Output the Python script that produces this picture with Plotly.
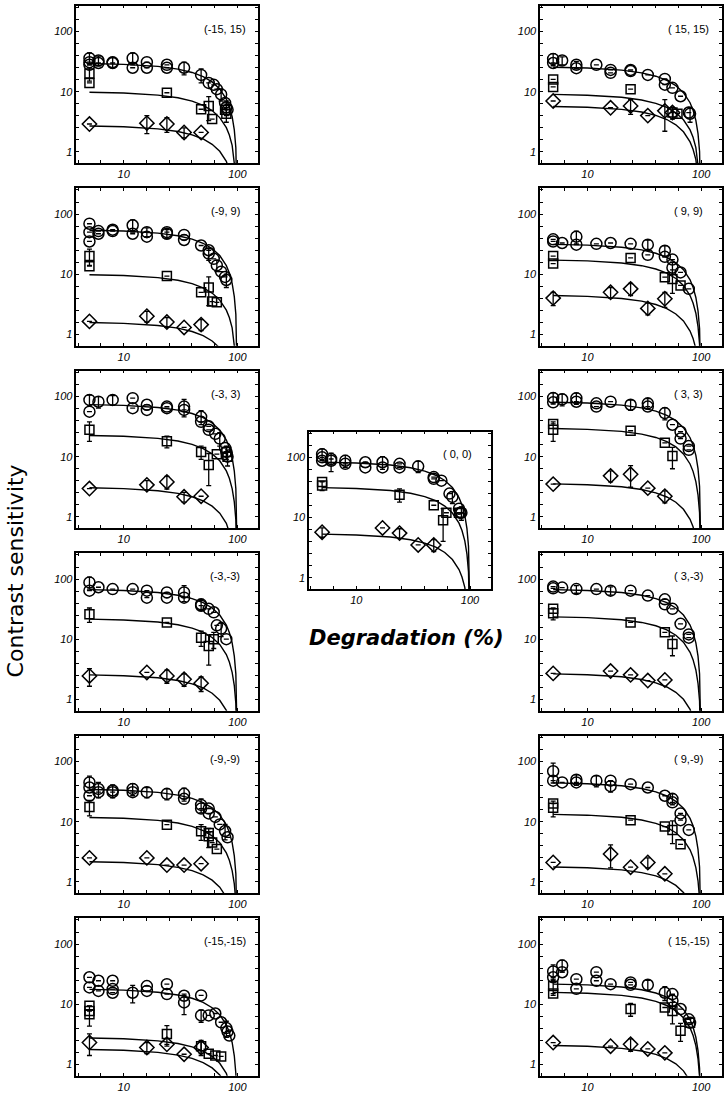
import plotly.graph_objects as go

W, H = 724, 1093

# ---------------- data ----------------
# shared fit-curve fall-off (relative level vs degradation %)
FIT_X = [5, 10, 20, 30, 40, 50, 60, 70, 80, 85, 90, 94, 97, 99, 99.8]
FIT_SHAPE = [0.980, 0.950, 0.877, 0.791, 0.696, 0.594, 0.485, 0.371, 0.252, 0.190, 0.128, 0.077, 0.039, 0.013, 0.0026]

# each point: (degradation %, contrast sensitivity, error half-width; 0 = no bar)
m15p15_circ = [(5,36,8),(5,31,0),(5,28,0),(6,33,6),(6,30,0),(8,31,6),(8,30,0),(12,36,8),(12,25,0),(16,31,0),(16,25,0),(24,28,0),(24,25,0),(34,25,6),(48,19,5),(56,14,0),(62,13,0),(66,11,0),(72,9,2),(78,6.5,0),(80,5.5,1.5),(82,5,0)]
m15p15_sq = [(5,20,5),(5,14,0),(24,9.6,0),(48,5.1,0),(56,5.8,2.5),(60,3.5,0),(78,5,0),(80,4.3,1.2)]
m15p15_dia = [(5,2.9,0),(16,3.0,1),(24,2.9,0.8),(34,2.1,0.4),(48,2.1,0)]
m15p15_fit = [30, 10, 2.75]

m9p9_circ = [(5,69,0),(5,50,0),(5,35,0),(6,52,0),(6,47,0),(8,55,0),(8,52,0),(12,65,15),(12,47,0),(16,50,9),(16,42,0),(24,50,0),(24,47,8),(34,45,0),(34,37,0),(48,30,0),(56,25,0),(56,22,5),(62,18,0),(66,14,3),(72,11,0),(78,9,0),(80,8,2)]
m9p9_sq = [(5,20,6),(5,13.6,0),(24,9.3,0),(48,5.0,0),(56,6.0,3),(60,3.5,0),(66,3.4,0)]
m9p9_dia = [(5,1.64,0),(16,2.0,0.4),(24,1.6,0.3),(34,1.3,0),(48,1.45,0.3)]
m9p9_fit = [55, 10, 1.6]

m3p3_circ = [(5,88,18),(5,56,0),(6,82,18),(8,88,16),(12,94,0),(12,64,0),(16,73,0),(16,60,0),(24,68,0),(24,64,0),(34,68,22),(34,60,0),(48,46,12),(48,38,0),(56,32,0),(56,28,0),(64,24,0),(70,20,5),(78,14,0),(80,12,3),(82,10,0)]
m3p3_sq = [(5,28,10),(24,18,4),(48,12,3),(56,7.3,4),(66,11,0),(80,12,0),(82,10,3)]
m3p3_dia = [(5,2.95,0),(16,3.4,0.6),(24,3.8,0.9),(34,2.15,0.4),(48,2.2,0)]
m3p3_fit = [75, 23, 3.1]

m3m3_circ = [(5,88,20),(5,64,0),(6,73,0),(8,68,0),(12,68,0),(16,64,0),(16,49,0),(24,60,0),(24,49,0),(34,60,18),(34,49,0),(48,38,8),(48,36,0),(56,32,0),(62,28,0),(66,17,0),(72,15,4),(80,10,0)]
m3m3_sq = [(5,26,7),(24,19,0),(48,10.6,3),(56,7.7,4),(62,10,3)]
m3m3_dia = [(5,2.45,0.8),(16,2.8,0),(24,2.45,0.6),(34,2.15,0.5),(48,1.85,0.5)]
m3m3_fit = [68, 22, 2.6]

m9m9_circ = [(5,45,12),(5,37,0),(5,27,0),(6,35,10),(6,31,0),(8,33,8),(8,31,0),(12,35,8),(12,31,0),(16,31,6),(24,29,6),(34,29,7),(34,24,0),(48,19,5),(48,16.5,0),(56,16.5,0),(56,13.7,0),(64,12,0),(70,9,0),(78,7,2),(82,5.5,0)]
m9m9_sq = [(5,17.5,5),(24,8.9,0),(48,6.9,2),(56,6.5,0),(56,5.7,2),(60,4.5,0),(66,3.5,0)]
m9m9_dia = [(5,2.5,0),(16,2.5,0),(24,1.9,0),(34,1.9,0),(48,2.0,0)]
m9m9_fit = [35, 12, 2.2]

m15m15_circ = [(5,28,0),(5,19,0),(6,24.5,0),(6,16.6,0),(8,24.5,0),(8,17.8,0),(8,15.5,0),(12,15.5,5),(16,20,0),(16,16.6,0),(24,21.5,0),(24,14.7,0),(34,13.8,0),(34,10.7,4),(48,14,0),(48,6.5,1.5),(56,6.5,0),(64,7,0),(72,5,0),(80,4,1.2),(82,3.5,0),(85,3,0)]
m15m15_sq = [(5,9.4,0),(5,7.7,0),(5,6.8,2.5),(24,3.2,1.2),(48,2.0,0.5),(56,1.5,0),(64,1.4,0),(72,1.35,0)]
m15m15_dia = [(5,2.3,0.9),(16,1.9,0.4),(24,2.15,0),(34,1.47,0),(48,1.9,0.5)]
m15m15_fit = [18, 2.8, 1.8]

z0_circ = [(5,113,25),(5,100,0),(5,88,0),(6,94,0),(6,88,30),(8,88,20),(8,78,0),(12,83,0),(12,68,0),(17,83,20),(17,68,0),(24,78,0),(24,68,0),(35,71,15),(48,47,0),(48,44,0),(56,41,0),(66,25,0),(70,22,5),(80,14,0),(82,12,0),(84,12,3)]
z0_sq = [(5,39,0),(5,34,6),(24,24,6),(48,16,0),(58,9,5),(62,12,0),(80,12,0)]
z0_dia = [(5,5.7,1),(17,6.7,0),(24,5.5,1),(35,3.5,0),(48,3.5,0.8)]
z0_fit = [85, 32, 5.4]

p15p15_circ = [(5,35,8),(5,30,0),(6,33,5),(8,28,4),(8,24.6,0),(12,28,0),(16,23,0),(16,20.6,0),(24,23,0),(24,22,0),(34,19,0),(48,16.3,0),(48,13.1,0),(56,11.6,0),(66,8.4,0),(78,4.5,0),(80,4.3,1.2)]
p15p15_sq = [(5,16,0),(5,12,0),(24,11,0),(56,4.5,0),(62,4.3,0)]
p15p15_dia = [(5,7,0),(16,5.4,0),(24,5.8,1.6),(34,4.0,0),(48,4.8,2.6),(56,4.5,1)]
p15p15_fit = [26, 9.2, 5.8]

p9p9_circ = [(5,38,0),(5,35,0),(6,33,0),(8,42,10),(8,31,0),(12,32,0),(16,33,0),(24,32,0),(34,31,6),(34,21,0),(48,24.5,5),(48,19.4,0),(56,17.5,0),(56,12.8,3),(66,10.7,0),(78,5.7,0)]
p9p9_sq = [(5,20,0),(5,15,0),(24,18.6,0),(48,8.9,0),(56,8.3,3.5),(66,6.5,0)]
p9p9_dia = [(5,4,1),(16,5.0,1),(24,5.7,1.3),(34,2.7,0.6),(48,3.9,1.1)]
p9p9_fit = [32, 17.5, 4.5]

p3p3_circ = [(5,95,20),(5,80,0),(6,90,20),(8,94,20),(8,82,0),(12,77,0),(12,68,0),(16,82,0),(24,73,14),(34,77,15),(34,68,0),(48,53,12),(56,34,0),(66,26,0),(66,20,0),(78,15,0),(78,13,0)]
p3p3_sq = [(5,35,0),(5,28,10),(24,27,0),(48,17,0),(56,10.3,4)]
p3p3_dia = [(5,3.5,0),(16,4.8,1),(24,5.1,2),(34,3.0,0),(48,2.2,0.5)]
p3p3_fit = [82, 30, 3.6]

p3m3_circ = [(5,75,0),(5,70,0),(6,72,0),(8,68,10),(12,68,0),(16,64,10),(24,64,0),(34,53,0),(48,46,0),(48,38,0),(56,32,0),(66,18,0),(78,12,0),(78,10.6,0)]
p3m3_sq = [(5,32,0),(5,27,6),(24,19,0),(48,13,0),(56,8.3,3)]
p3m3_dia = [(5,2.7,0),(16,2.95,0),(24,2.55,0),(34,2.05,0),(48,2.1,0)]
p3m3_fit = [68, 24, 2.7]

p9m9_circ = [(5,69,25),(5,48,0),(6,45,0),(8,50,10),(8,45,0),(12,48,10),(16,48,0),(16,39,8),(24,42,0),(34,37,0),(48,27,0),(56,24,5),(56,21,0),(66,13.7,0),(66,10.6,0),(78,7.3,0)]
p9m9_sq = [(5,20,0),(5,17,5),(24,10.6,0),(48,8.3,0),(56,7.3,3),(66,4.2,0)]
p9m9_dia = [(5,2.1,0),(16,2.9,1.2),(24,1.75,0),(34,2.1,0.4),(48,1.36,0)]
p9m9_fit = [45, 13.5, 1.8]

p15m15_circ = [(5,35,10),(5,28,0),(6,44,10),(6,34,0),(8,26,0),(8,18,0),(12,34,0),(12,24.5,0),(16,21.5,0),(24,23,0),(24,21,0),(34,21,4),(48,15.5,4),(56,14.7,0),(56,11.4,3),(66,8.3,0),(78,5.6,0),(80,4.9,0)]
p15m15_sq = [(5,20,6),(5,15,0),(24,8.3,2),(48,8.8,0),(56,7.7,3),(66,3.6,1.2),(80,4.9,0)]
p15m15_dia = [(5,2.3,0),(16,2.0,0),(24,2.15,0.5),(34,1.8,0),(48,1.55,0)]
p15m15_fit = [22, 16, 2.1]

# panel labels
LABELS = {
    "m15p15": "(-15, 15)", "m9p9": "(-9, 9)", "m3p3": "(-3, 3)",
    "m3m3": "(-3,-3)", "m9m9": "(-9,-9)", "m15m15": "(-15,-15)",
    "z0": "( 0, 0)",
    "p15p15": "( 15, 15)", "p9p9": "( 9, 9)", "p3p3": "( 3, 3)",
    "p3m3": "( 3,-3)", "p9m9": "( 9,-9)", "p15m15": "( 15,-15)",
}
X_TICK_LABELS = {10: "10", 100: "100"}
Y_TICK_LABELS = {1: "1", 10: "10", 100: "100"}

PANEL_DATA = {
    "m15p15": (m15p15_circ, m15p15_sq, m15p15_dia, m15p15_fit),
    "m9p9": (m9p9_circ, m9p9_sq, m9p9_dia, m9p9_fit),
    "m3p3": (m3p3_circ, m3p3_sq, m3p3_dia, m3p3_fit),
    "m3m3": (m3m3_circ, m3m3_sq, m3m3_dia, m3m3_fit),
    "m9m9": (m9m9_circ, m9m9_sq, m9m9_dia, m9m9_fit),
    "m15m15": (m15m15_circ, m15m15_sq, m15m15_dia, m15m15_fit),
    "z0": (z0_circ, z0_sq, z0_dia, z0_fit),
    "p15p15": (p15p15_circ, p15p15_sq, p15p15_dia, p15p15_fit),
    "p9p9": (p9p9_circ, p9p9_sq, p9p9_dia, p9p9_fit),
    "p3p3": (p3p3_circ, p3p3_sq, p3p3_dia, p3p3_fit),
    "p3m3": (p3m3_circ, p3m3_sq, p3m3_dia, p3m3_fit),
    "p9m9": (p9m9_circ, p9m9_sq, p9m9_dia, p9m9_fit),
    "p15m15": (p15m15_circ, p15m15_sq, p15m15_dia, p15m15_fit),
}

# ---------------- layout (pixels) ----------------
PW, PH = 182.3, 158.0
COL_L, COL_M, COL_R = 76.7, 310.0, 541.7
ROW_TOPS = [5.7 + 183.0 * i for i in range(6)]
MID_TOP = 432.7
POS = {
    "m15p15": (COL_L, ROW_TOPS[0]), "m9p9": (COL_L, ROW_TOPS[1]), "m3p3": (COL_L, ROW_TOPS[2]),
    "m3m3": (COL_L, ROW_TOPS[3]), "m9m9": (COL_L, ROW_TOPS[4]), "m15m15": (COL_L, ROW_TOPS[5]),
    "z0": (COL_M, MID_TOP),
    "p15p15": (COL_R, ROW_TOPS[0]), "p9p9": (COL_R, ROW_TOPS[1]), "p3p3": (COL_R, ROW_TOPS[2]),
    "p3m3": (COL_R, ROW_TOPS[3]), "p9m9": (COL_R, ROW_TOPS[4]), "p15m15": (COL_R, ROW_TOPS[5]),
}
XR = [0.585, 0.585 + PW / 114.0]
YR = [-0.19, 2.43]

XTV = [10 ** (k / 5) for k in range(2, 12)]
YTV = [10 ** (k / 5) for k in range(-1, 13)]

def px_x(p):
    return p / W

def px_y(p):
    return 1 - p / H

fig = go.Figure()
layout = dict(
    width=W, height=H, margin=dict(l=0, r=0, t=0, b=0),
    paper_bgcolor="white", plot_bgcolor="white", showlegend=False,
)
annotations = []
tickfont = dict(family="Liberation Sans, Arial, sans-serif", size=11, color="black", style="italic")

MARKERS = [("circle-open", 11), ("square-open", 9), ("diamond-open", 11)]

for i, key in enumerate(PANEL_DATA):
    n = i + 1
    xa = "x" if n == 1 else f"x{n}"
    ya = "y" if n == 1 else f"y{n}"
    left, top = POS[key]
    circ, sq, dia, fit = PANEL_DATA[key]

    common = dict(
        type="log", showgrid=False, zeroline=False, showline=True, linecolor="black",
        linewidth=1.6, mirror="ticks", ticks="inside", ticklen=3, tickwidth=1,
        tickcolor="black", tickfont=tickfont, fixedrange=True,
    )
    layout["xaxis" if n == 1 else f"xaxis{n}"] = dict(
        common, domain=[px_x(left), min(1.0, px_x(left + PW))], range=XR, anchor=ya,
        tickvals=XTV, ticktext=[X_TICK_LABELS.get(round(v), "") if abs(v - round(v)) < 1e-6 else "" for v in XTV],
    )
    layout["yaxis" if n == 1 else f"yaxis{n}"] = dict(
        common, domain=[px_y(top + PH), px_y(top)], range=YR, anchor=xa,
        tickvals=YTV, ticktext=[Y_TICK_LABELS.get(round(v), "") if abs(v - round(v)) < 1e-6 else "" for v in YTV],
    )

    for level in fit:
        fig.add_trace(go.Scatter(
            x=FIT_X, y=[level * s for s in FIT_SHAPE], mode="lines",
            line=dict(color="black", width=1.4), xaxis=xa, yaxis=ya, hoverinfo="skip",
        ))
    for pts, (sym, size) in zip((circ, sq, dia), MARKERS):
        xs = [p[0] for p in pts]
        ys = [p[1] for p in pts]
        es = [p[2] if p[2] > 0 else None for p in pts]
        fig.add_trace(go.Scatter(
            x=xs, y=ys, mode="markers", xaxis=xa, yaxis=ya,
            marker=dict(symbol=sym, size=size, color="black", line=dict(width=1.5, color="black")),
            error_y=dict(type="data", array=es, arrayminus=es, visible=True,
                         color="black", thickness=1.3, width=2.5),
        ))
    annotations.append(dict(
        x=px_x(left + 149), y=px_y(top + 23), xref="paper", yref="paper",
        text=LABELS[key], showarrow=False, xanchor="center", yanchor="middle",
        font=dict(family="Liberation Sans, Arial, sans-serif", size=11, color="black"),
    ))

annotations.append(dict(
    x=px_x(15), y=px_y(572), xref="paper", yref="paper", text="Contrast sensitivity",
    showarrow=False, textangle=-90, xanchor="center", yanchor="middle",
    font=dict(family="DejaVu Sans, sans-serif", size=22, color="black"),
))
annotations.append(dict(
    x=px_x(308), y=px_y(640), xref="paper", yref="paper", text="Degradation (%)",
    showarrow=False, xanchor="left", yanchor="middle",
    font=dict(family="DejaVu Sans, sans-serif", size=21, color="black",
              weight="bold", style="italic"),
))
layout["annotations"] = annotations
fig.update_layout(**layout)
fig.write_html("out.html")
